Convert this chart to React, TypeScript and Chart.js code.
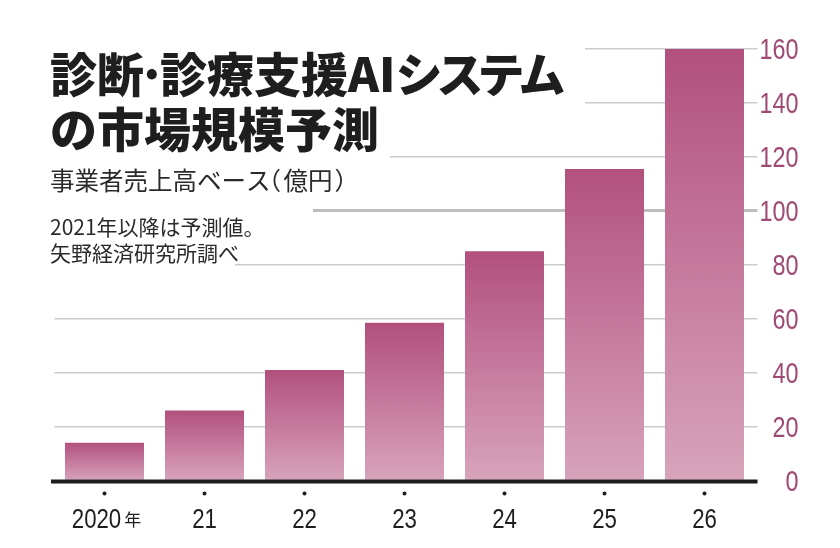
import React, { useEffect, useRef } from 'react';
import { Chart, registerables } from 'chart.js';

Chart.register(...registerables);

// ---- data ----
const years: string[] = ['2020', '21', '22', '23', '24', '25', '26'];
const yearSuffix: string[] = ['年', '', '', '', '', '', ''];
const marketSize: number[] = [14, 26, 41, 58.5, 85, 115.5, 160];
const yMin = 0;
const yMax = 160;
const yStep = 20;

// ---- texts ----
const titleLine1Runs: string[] = ['診断', '·', '診療支援AI', 'システム'];
const titleLine2 = 'の市場規模予測';
const subtitleRuns: string[] = ['事業者売上高ベース', '（', '億円', '）'];
const notes: string[] = ['2021年以降は予測値。', '矢野経済研究所調べ'];

// ---- styles ----
const BAR_TOP = '#b2507d';
const BAR_BOTTOM = '#d8a3bb';
const TICK_COLOR = '#9e4a75';
const GRID_COLOR = '#cbcbcb';
const SANS = '"Liberation Sans", Arial, sans-serif';
const JP = '"Noto Sans CJK JP", "Noto Sans", sans-serif';
const CONDENSE = 0.78;

function drawRuns(
  ctx: CanvasRenderingContext2D,
  x: number,
  y: number,
  runs: { text: string; font: string; ls?: number; adv?: number }[]
) {
  for (const r of runs) {
    ctx.font = r.font;
    (ctx as any).letterSpacing = (r.ls || 0) + 'px';
    if (r.adv !== undefined) {
      const m = ctx.measureText(r.text);
      const inkW = m.actualBoundingBoxRight + m.actualBoundingBoxLeft;
      const inkL = -m.actualBoundingBoxLeft;
      ctx.fillText(r.text, x + r.adv / 2 - inkW / 2 - inkL, y);
      x += r.adv;
    } else {
      ctx.fillText(r.text, x, y);
      x += ctx.measureText(r.text).width;
    }
  }
  (ctx as any).letterSpacing = '0px';
}

// condensed text: x is the anchor for given align
function drawCondensed(ctx: CanvasRenderingContext2D, text: string, x: number, y: number, align: 'left' | 'right' | 'center') {
  ctx.save();
  ctx.translate(x, y);
  ctx.scale(CONDENSE, 1);
  ctx.textAlign = align;
  ctx.fillText(text, 0, 0);
  ctx.restore();
}

const decorPlugin = {
  id: 'decor',
  beforeDatasetsDraw(chart: any) {
    const ctx: CanvasRenderingContext2D = chart.ctx;
    ctx.save();
    // white boxes behind the text block (hide grid lines there)
    ctx.fillStyle = '#ffffff';
    ctx.fillRect(0, 30, 585, 100);
    ctx.fillRect(0, 130, 390, 40);
    ctx.fillRect(0, 170, 313, 60);
    ctx.fillRect(0, 230, 235, 45);

    ctx.fillStyle = '#1e1e1e';
    ctx.textAlign = 'left';
    ctx.textBaseline = 'alphabetic';
    const tf = '900 47px ' + JP;
    drawRuns(ctx, 50, 92, [
      { text: titleLine1Runs[0], font: tf },
      { text: titleLine1Runs[1], font: tf, adv: 16 },
      { text: titleLine1Runs[2], font: tf },
      { text: titleLine1Runs[3], font: tf, ls: -6 },
    ]);
    drawRuns(ctx, 50, 147, [{ text: titleLine2, font: tf }]);

    ctx.fillStyle = '#2a2a2a';
    const sf = '400 24.5px ' + JP;
    drawRuns(ctx, 50, 190, [
      { text: subtitleRuns[0], font: sf },
      { text: subtitleRuns[1], font: sf, adv: 13 },
      { text: subtitleRuns[2], font: sf },
      { text: subtitleRuns[3], font: sf, adv: 13 },
    ]);
    drawRuns(ctx, 50, 235, [{ text: notes[0], font: '400 21px ' + JP }]);
    drawRuns(ctx, 50, 261, [{ text: notes[1], font: '400 21px ' + JP }]);
    ctx.restore();
  },
  afterDatasetsDraw(chart: any) {
    const ctx: CanvasRenderingContext2D = chart.ctx;
    const area = chart.chartArea;
    const xs = chart.scales.x;
    const ys = chart.scales.y;
    const base = ys.getPixelForValue(0);
    ctx.save();
    // baseline
    ctx.strokeStyle = '#1f1a1c';
    ctx.lineWidth = 4;
    ctx.beginPath();
    ctx.moveTo(area.left - 3.5, base + 1);
    ctx.lineTo(area.right + 3, base + 1);
    ctx.stroke();

    // y tick labels (right side, right-aligned, condensed)
    ctx.fillStyle = TICK_COLOR;
    ctx.font = '30px ' + SANS;
    ctx.textBaseline = 'middle';
    ys.ticks.forEach((t: any) => {
      const py = ys.getPixelForValue(t.value);
      drawCondensed(ctx, String(t.value), area.right + 44, py + 2, 'right');
    });

    // category dots + labels
    ctx.textBaseline = 'alphabetic';
    years.forEach((yr, i) => {
      const cx = xs.getPixelForValue(i);
      ctx.fillStyle = '#1e1e1e';
      ctx.beginPath();
      ctx.arc(cx, base + 13, 2, 0, Math.PI * 2);
      ctx.fill();
      const numFont = '28.5px ' + SANS;
      const sufFont = '400 17px ' + JP;
      ctx.font = numFont;
      const w1 = ctx.measureText(yr).width * CONDENSE;
      let w2 = 0;
      if (yearSuffix[i]) {
        ctx.font = sufFont;
        w2 = ctx.measureText(yearSuffix[i]).width + 3;
      }
      const startX = cx - (w1 + w2) / 2 + (w2 ? 2 : 0);
      ctx.font = numFont;
      drawCondensed(ctx, yr, startX, base + 47, 'left');
      if (yearSuffix[i]) {
        ctx.font = sufFont;
        ctx.textAlign = 'left';
        ctx.fillText(yearSuffix[i], startX + w1 + 3, base + 45);
      }
    });
    ctx.restore();
  },
};

export default function App() {
  const ref = useRef<HTMLCanvasElement | null>(null);
  useEffect(() => {
    if (!ref.current) return;
    const chart = new Chart(ref.current, {
      type: 'bar',
      data: {
        labels: years,
        datasets: [
          {
            data: marketSize,
            barPercentage: 0.79,
            categoryPercentage: 1,
            borderWidth: 0,
            backgroundColor: (c: any) => {
              const ch = c.chart;
              if (!ch.chartArea || !ch.scales.y) return BAR_TOP;
              const v = c.parsed ? c.parsed.y : c.raw;
              if (v === undefined || v === null) return BAR_TOP;
              const top = ch.scales.y.getPixelForValue(v);
              const bot = ch.scales.y.getPixelForValue(0);
              const g = ch.ctx.createLinearGradient(0, top, 0, bot);
              g.addColorStop(0, BAR_TOP);
              g.addColorStop(1, BAR_BOTTOM);
              return g;
            },
          },
        ],
      },
      options: {
        responsive: false,
        animation: false,
        events: [],
        layout: { padding: { left: 54.5, top: 49, bottom: 67.5, right: 0 } },
        plugins: { legend: { display: false }, tooltip: { enabled: false } },
        scales: {
          x: { display: false },
          y: {
            position: 'right',
            min: yMin,
            max: yMax,
            afterFit: (s: any) => {
              s.width = 85.5;
            },
            border: { display: false },
            grid: {
              color: (c: any) => (c.tick && c.tick.value === 100 ? '#bdbdbd' : GRID_COLOR),
              lineWidth: (c: any) => (c.tick && c.tick.value === 100 ? 3 : 1.5),
              drawTicks: true,
              tickLength: 3,
            },
            ticks: {
              stepSize: yStep,
              display: false,
            },
          },
        },
      },
      plugins: [decorPlugin],
    } as any);
    return () => chart.destroy();
  }, []);
  return (
    <div style={{ position: 'fixed', left: 0, top: 0, width: 840, height: 548, background: '#fff' }}>
      <canvas ref={ref} width={840} height={548} style={{ display: 'block', width: 840, height: 548 }} />
    </div>
  );
}
